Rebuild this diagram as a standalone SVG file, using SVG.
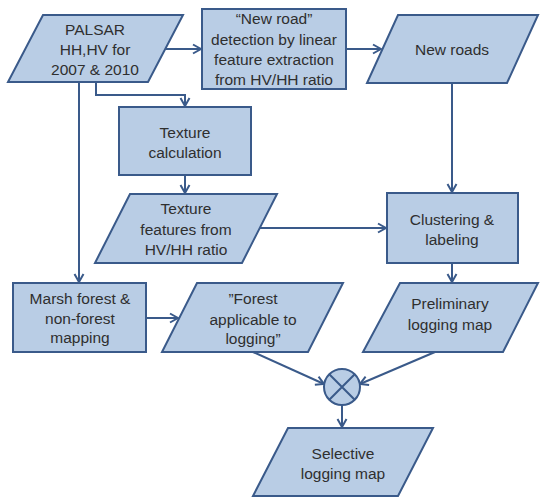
<svg xmlns="http://www.w3.org/2000/svg" width="540" height="497" viewBox="0 0 540 497">
  <defs>
    <style>
      .shape { fill: #b9cde5; stroke: #3a5a8a; stroke-width: 2; stroke-linejoin: miter; }
      .lbl { font-family: "Liberation Sans", Arial, sans-serif; font-size: 15.5px; fill: #2f2f2f; text-anchor: middle; }
      .conn { fill: none; stroke: #3a5a8a; stroke-width: 2; }
      .conn path, .conn line, .conn polyline { marker-end: url(#arrow); }
    </style>
    <marker id="arrow" viewBox="-10 -6 12 12" refX="0" refY="0" markerWidth="12" markerHeight="12" markerUnits="userSpaceOnUse" orient="auto">
      <path d="M-8,-4.5 L0,0 L-8,4.5" fill="none" stroke="#3a5a8a" stroke-width="2"/>
    </marker>
  </defs>

  <rect width="540" height="497" fill="#ffffff"/>

  <!-- connectors -->
  <g id="connectors" class="conn">
    <line x1="165" y1="49" x2="201" y2="49"/>
    <line x1="346" y1="49" x2="381" y2="49"/>
    <line x1="452" y1="83" x2="452" y2="192"/>
    <polyline points="96,82 96,95 185,95 185,106"/>
    <line x1="185" y1="175" x2="185" y2="193"/>
    <line x1="260" y1="228" x2="386" y2="228"/>
    <line x1="79" y1="82" x2="79" y2="282"/>
    <line x1="146" y1="318" x2="178" y2="318"/>
    <line x1="452" y1="263" x2="452" y2="282"/>
    <line x1="253" y1="352" x2="324" y2="384"/>
    <line x1="435" y1="352" x2="360" y2="384"/>
    <line x1="342" y1="405" x2="342" y2="427"/>
  </g>

  <!-- PALSAR input data -->
  <g id="palsar">
    <polygon class="shape" points="43,15 183,15 148,82 8,82"/>
    <text class="lbl" x="95" y="35">PALSAR</text>
    <text class="lbl" x="95" y="55">HH,HV for</text>
    <text class="lbl" x="95" y="75">2007 &amp; 2010</text>
  </g>

  <!-- road detection process -->
  <g id="road-detection">
    <rect class="shape" x="202" y="9" width="144" height="80"/>
    <text class="lbl" x="274" y="24">“New road”</text>
    <text class="lbl" x="274" y="45">detection by linear</text>
    <text class="lbl" x="274" y="65">feature extraction</text>
    <text class="lbl" x="274" y="85">from HV/HH ratio</text>
  </g>

  <!-- new roads output -->
  <g id="new-roads">
    <polygon class="shape" points="398,15 538,15 507,83 367,83"/>
    <text class="lbl" x="452" y="55">New roads</text>
  </g>

  <!-- texture calculation process -->
  <g id="texture-calc">
    <rect class="shape" x="119" y="107" width="132" height="68"/>
    <text class="lbl" x="185" y="138">Texture</text>
    <text class="lbl" x="185" y="158">calculation</text>
  </g>

  <!-- texture features data -->
  <g id="texture-features">
    <polygon class="shape" points="130,194 277,194 242,263 95,263"/>
    <text class="lbl" x="186" y="214">Texture</text>
    <text class="lbl" x="186" y="235">features from</text>
    <text class="lbl" x="186" y="255">HV/HH ratio</text>
  </g>

  <!-- clustering process -->
  <g id="clustering">
    <rect class="shape" x="387" y="193" width="131" height="70"/>
    <text class="lbl" x="452" y="225">Clustering &amp;</text>
    <text class="lbl" x="452" y="245">labeling</text>
  </g>

  <!-- forest mapping process -->
  <g id="marsh-forest">
    <rect class="shape" x="13" y="283" width="133" height="69"/>
    <text class="lbl" x="80" y="304">Marsh forest &amp;</text>
    <text class="lbl" x="80" y="324">non-forest</text>
    <text class="lbl" x="80" y="343">mapping</text>
  </g>

  <!-- forest applicable data -->
  <g id="forest-applicable">
    <polygon class="shape" points="197,283 343,283 308,352 162,352"/>
    <text class="lbl" x="253" y="304">”Forest</text>
    <text class="lbl" x="253" y="325">applicable to</text>
    <text class="lbl" x="253" y="344">logging”</text>
  </g>

  <!-- preliminary map data -->
  <g id="preliminary">
    <polygon class="shape" points="400,283 538,283 503,352 363,352"/>
    <text class="lbl" x="450" y="309">Preliminary</text>
    <text class="lbl" x="450" y="330">logging map</text>
  </g>

  <!-- combination operator -->
  <g id="combine">
    <circle class="shape" cx="342" cy="387" r="18"/>
    <path d="M329.3,374.3 L354.7,399.7 M354.7,374.3 L329.3,399.7" stroke="#3a5a8a" stroke-width="2" fill="none"/>
  </g>

  <!-- final map -->
  <g id="selective">
    <polygon class="shape" points="288,428 433,428 398,496 253,496"/>
    <text class="lbl" x="343" y="459">Selective</text>
    <text class="lbl" x="343" y="479">logging map</text>
  </g>
</svg>
